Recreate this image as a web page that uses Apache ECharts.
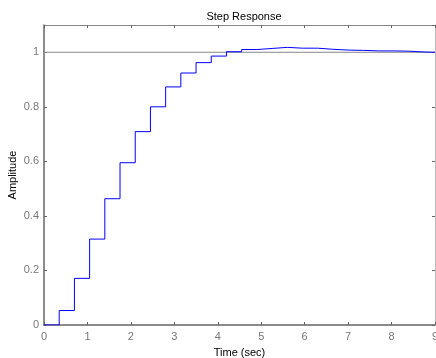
<!DOCTYPE html>
<html>
<head>
<meta charset="utf-8">
<script src="https://cdn.jsdelivr.net/npm/echarts@6/dist/echarts.min.js"></script>
<style>
  html, body { margin: 0; padding: 0; background: #fff; }
  #chart { width: 436px; height: 358px; }
</style>
</head>
<body>
<div id="chart"></div>
<script>
// sample times (sec) of the discrete step response
const times = [0, 0.35, 0.7, 1.05, 1.4, 1.75, 2.1, 2.45, 2.8, 3.15, 3.5, 3.85, 4.2,
  4.55, 4.9, 5.25, 5.6, 5.95, 6.3, 6.65, 7.0, 7.35, 7.7, 8.05, 8.4, 8.75, 9]
// amplitude held at each sample
const amplitude = [0, 0.053, 0.171, 0.315, 0.463, 0.595, 0.709, 0.8, 0.873, 0.924, 0.962,
  0.986, 1.002, 1.01, 1.014, 1.018, 1.015, 1.015, 1.011, 1.008, 1.007, 1.005, 1.005,
  1.004, 1.001, 1.0, 1.0]
// steady-state reference line
const finalTimes = [0, 9]
const finalValue = 1

const AXIS_COLOR = '#666'
const LABEL_COLOR = '#777'
const FONT = 'Liberation Sans, Arial, sans-serif'

const chart = echarts.init(document.getElementById('chart'))

const baseX = {
  type: 'value',
  min: 0,
  max: 9,
  interval: 1,
  axisLine: { show: true, onZero: false, lineStyle: { color: AXIS_COLOR, width: 1.5 } },
  axisTick: { show: true, inside: true, length: 3, lineStyle: { color: AXIS_COLOR } },
  splitLine: { show: false }
}
const baseY = {
  type: 'value',
  min: 0,
  max: 1.1,
  interval: 0.2,
  axisLine: { show: true, onZero: false, lineStyle: { color: AXIS_COLOR, width: 1.5 } },
  axisTick: { show: true, inside: true, length: 3, lineStyle: { color: AXIS_COLOR } },
  splitLine: { show: false }
}

chart.setOption({
  animation: false,
  title: {
    text: 'Step Response',
    left: 239,
    textAlign: 'center',
    top: 6,
    textStyle: { fontSize: 11, fontWeight: 'normal', color: '#000', fontFamily: FONT }
  },
  grid: { left: 44, right: 1, top: 25, bottom: 33, containLabel: false, outerBoundsMode: 'none' },
  xAxis: [
    Object.assign({}, baseX, {
      position: 'bottom',
      name: 'Time (sec)',
      nameLocation: 'middle',
      nameGap: 22,
      nameMoveOverlap: false,
      nameTextStyle: { fontSize: 11, color: '#000', fontFamily: FONT },
      axisLabel: { color: LABEL_COLOR, fontSize: 11, margin: 6, fontFamily: FONT }
    }),
    Object.assign({}, baseX, {
      position: 'top',
      axisLabel: { show: false },
      axisLine: { show: true, onZero: false, lineStyle: { color: '#888', width: 1 } }
    })
  ],
  yAxis: [
    Object.assign({}, baseY, {
      position: 'left',
      name: 'Amplitude',
      nameLocation: 'middle',
      nameRotate: 90,
      nameGap: 26,
      nameMoveOverlap: false,
      nameTextStyle: { fontSize: 11, color: '#000', fontFamily: FONT },
      axisLabel: { color: LABEL_COLOR, fontSize: 11, margin: 5, showMaxLabel: false, fontFamily: FONT }
    }),
    Object.assign({}, baseY, {
      position: 'right',
      axisLabel: { show: false },
      axisLine: { show: true, onZero: false, lineStyle: { color: '#bbb', width: 1 } }
    })
  ],
  series: [
    {
      type: 'line',
      showSymbol: false,
      silent: true,
      data: finalTimes.map(t => [t, finalValue]),
      lineStyle: { color: '#888', width: 1 },
      z: 1
    },
    {
      type: 'line',
      step: 'end',
      showSymbol: false,
      data: times.map((t, i) => [t, amplitude[i]]),
      lineStyle: { color: '#0000ff', width: 1 },
      z: 3
    }
  ]
})
</script>
</body>
</html>
